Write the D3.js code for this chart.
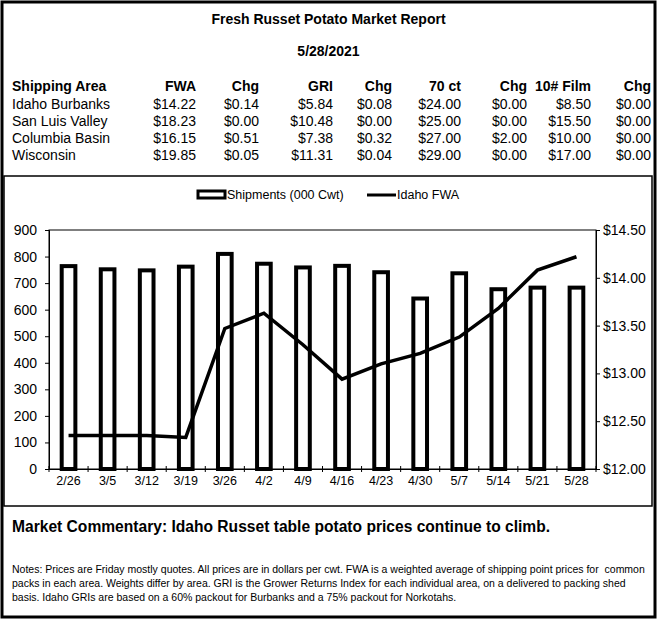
<!DOCTYPE html>
<html>
<head>
<meta charset="utf-8">
<script src="https://cdn.jsdelivr.net/npm/d3@7"></script>
<style>
  body { margin: 0; background: #fff; }
  text { font-family: Arial, "Liberation Sans", sans-serif; fill: #000; }
</style>
</head>
<body>
<div id="chart"></div>
<script>
// weekly data
var weeks = ["2/26", "3/5", "3/12", "3/19", "3/26", "4/2", "4/9", "4/16", "4/23", "4/30", "5/7", "5/14", "5/21", "5/28"];
var shipments = [764, 752, 748, 762, 810, 773, 759, 765, 741, 642, 737, 677, 683, 683];
var idahoFwa = [12.35, 12.35, 12.35, 12.33, 13.47, 13.63, 13.30, 12.94, 13.10, 13.21, 13.38, 13.68, 14.08, 14.22];

var leftTicks = [0, 100, 200, 300, 400, 500, 600, 700, 800, 900];
var rightTicks = [12.00, 12.50, 13.00, 13.50, 14.00, 14.50];

// price table
var areas = ["Idaho Burbanks", "San Luis Valley", "Columbia Basin", "Wisconsin"];
var headers = ["FWA", "Chg", "GRI", "Chg", "70 ct", "Chg", "10# Film", "Chg"];
var fwa = [14.22, 18.23, 16.15, 19.85];
var fwaChg = [0.14, 0.00, 0.51, 0.05];
var gri = [5.84, 10.48, 7.38, 11.31];
var griChg = [0.08, 0.00, 0.32, 0.04];
var ct70 = [24.00, 25.00, 27.00, 29.00];
var ct70Chg = [0.00, 0.00, 2.00, 0.00];
var film10 = [8.50, 15.50, 10.00, 17.00];
var film10Chg = [0.00, 0.00, 0.00, 0.00];

var W = 657, H = 620;
var fmt = d3.format("$.2f");

var svg = d3.select("#chart")
  .append("svg")
    .attr("width", W)
    .attr("height", H);

// outer frame
svg.append("rect")
    .attr("x", 2).attr("y", 2)
    .attr("width", W - 4).attr("height", H - 5)
    .attr("fill", "none").attr("stroke", "#000").attr("stroke-width", 3);

svg.append("text")
    .attr("x", W / 2).attr("y", 24)
    .attr("text-anchor", "middle")
    .style("font-size", "14px").style("font-weight", "bold")
    .text("Fresh Russet Potato Market Report");
svg.append("text")
    .attr("x", W / 2).attr("y", 56)
    .attr("text-anchor", "middle")
    .style("font-size", "14px").style("font-weight", "bold")
    .text("5/28/2021");

// table
var colRight = [196, 259, 333, 392, 461, 527, 591, 651];
var colData = [fwa, fwaChg, gri, griChg, ct70, ct70Chg, film10, film10Chg];
var headY = 91, rowY0 = 109, rowStep = 17;

svg.append("text")
    .attr("x", 12).attr("y", headY)
    .style("font-size", "14px").style("font-weight", "bold")
    .text("Shipping Area");
svg.selectAll(".hdr")
    .data(headers)
    .enter()
    .append("text")
      .attr("class", "hdr")
      .attr("x", (d, i) => colRight[i])
      .attr("y", headY)
      .attr("text-anchor", "end")
      .style("font-size", "14px").style("font-weight", "bold")
      .text(d => d);

areas.forEach(function(a, r) {
  var y = rowY0 + r * rowStep;
  svg.append("text")
      .attr("x", 12).attr("y", y)
      .style("font-size", "14px")
      .text(a);
  colData.forEach(function(col, c) {
    svg.append("text")
        .attr("x", colRight[c]).attr("y", y)
        .attr("text-anchor", "end")
        .style("font-size", "14px")
        .text(fmt(col[r]));
  });
});

// chart box
svg.append("rect")
    .attr("x", 4).attr("y", 176)
    .attr("width", 648).attr("height", 330)
    .attr("fill", "none").attr("stroke", "#000").attr("stroke-width", 1.5);

var plot = {left: 49, right: 596, top: 230, bottom: 469};

var x = d3.scaleBand()
    .domain(weeks)
    .range([plot.left, plot.right]);
var yL = d3.scaleLinear()
    .domain([0, 900])
    .range([plot.bottom, plot.top]);
var yR = d3.scaleLinear()
    .domain([12, 14.5])
    .range([plot.bottom, plot.top]);

// plot frame
svg.append("rect")
    .attr("x", plot.left).attr("y", plot.top)
    .attr("width", plot.right - plot.left).attr("height", plot.bottom - plot.top)
    .attr("fill", "none").attr("stroke", "#000").attr("stroke-width", 1);

var barW = x.bandwidth() * 0.35;
svg.selectAll(".bar")
    .data(shipments)
    .enter()
    .append("rect")
      .attr("class", "bar")
      .attr("x", (d, i) => x(weeks[i]) + x.bandwidth() / 2 - barW / 2)
      .attr("y", d => yL(d))
      .attr("width", barW)
      .attr("height", d => yL(0) - yL(d))
      .attr("fill", "#fff")
      .attr("stroke", "#000")
      .attr("stroke-width", 4);

var line = d3.line()
    .x((d, i) => x(weeks[i]) + x.bandwidth() / 2)
    .y(d => yR(d));
svg.append("path")
    .datum(idahoFwa)
    .attr("d", line)
    .attr("fill", "none")
    .attr("stroke", "#000")
    .attr("stroke-width", 3.5)
    .attr("stroke-linejoin", "miter");

// axes
var gL = svg.append("g")
    .attr("transform", "translate(" + plot.left + ",0)")
    .call(d3.axisLeft(yL).tickValues(leftTicks).tickSize(4).tickPadding(8));
var gR = svg.append("g")
    .attr("transform", "translate(" + plot.right + ",0)")
    .call(d3.axisRight(yR).tickValues(rightTicks).tickFormat(fmt).tickSize(4).tickPadding(3));
var gX = svg.append("g")
    .attr("transform", "translate(0," + plot.bottom + ")")
    .call(d3.axisBottom(x).tickSize(0).tickPadding(7));

[gL, gR, gX].forEach(function(g) {
  g.select(".domain").attr("stroke", "#000");
  g.selectAll("text").attr("fill", "#000");
  g.selectAll("line").attr("stroke", "#000");
});
gL.selectAll("text").style("font-size", "14px");
gR.selectAll("text").style("font-size", "14px");
gX.selectAll("text").style("font-size", "12.5px");

// cross ticks on category boundaries
svg.selectAll(".xtick")
    .data(d3.range(weeks.length + 1))
    .enter()
    .append("line")
      .attr("x1", i => x.range()[0] + i * x.step())
      .attr("x2", i => x.range()[0] + i * x.step())
      .attr("y1", plot.bottom - 3)
      .attr("y2", plot.bottom + 3)
      .attr("stroke", "#000");

// legend
var lg = svg.append("g");
lg.append("rect")
    .attr("x", 198).attr("y", 191)
    .attr("width", 27).attr("height", 7)
    .attr("fill", "#fff").attr("stroke", "#000").attr("stroke-width", 3);
lg.append("text")
    .attr("x", 227).attr("y", 199)
    .style("font-size", "12.5px")
    .text("Shipments (000 Cwt)");
lg.append("line")
    .attr("x1", 367).attr("x2", 396)
    .attr("y1", 195).attr("y2", 195)
    .attr("stroke", "#000").attr("stroke-width", 3);
lg.append("text")
    .attr("x", 397).attr("y", 199)
    .style("font-size", "12.5px")
    .text("Idaho FWA");

// commentary and notes
svg.append("text")
    .attr("x", 12).attr("y", 532)
    .style("font-size", "15.6px").style("font-weight", "bold")
    .text("Market Commentary: Idaho Russet table potato prices continue to climb.");

var notes = [
  "Notes: Prices are Friday mostly quotes. All prices are in dollars per cwt. FWA is a weighted average of shipping point prices for  common",
  "packs in each area. Weights differ by area. GRI is the Grower Returns Index for each individual area, on a delivered to packing shed",
  "basis. Idaho GRIs are based on a 60% packout for Burbanks and a 75% packout for Norkotahs."
];
svg.selectAll(".note")
    .data(notes)
    .enter()
    .append("text")
      .attr("class", "note")
      .attr("x", 12)
      .attr("y", (d, i) => 573 + i * 14)
      .style("font-size", "10.5px")
      .style("white-space", "pre")
      .attr("xml:space", "preserve")
      .text(d => d);
</script>
</body>
</html>
